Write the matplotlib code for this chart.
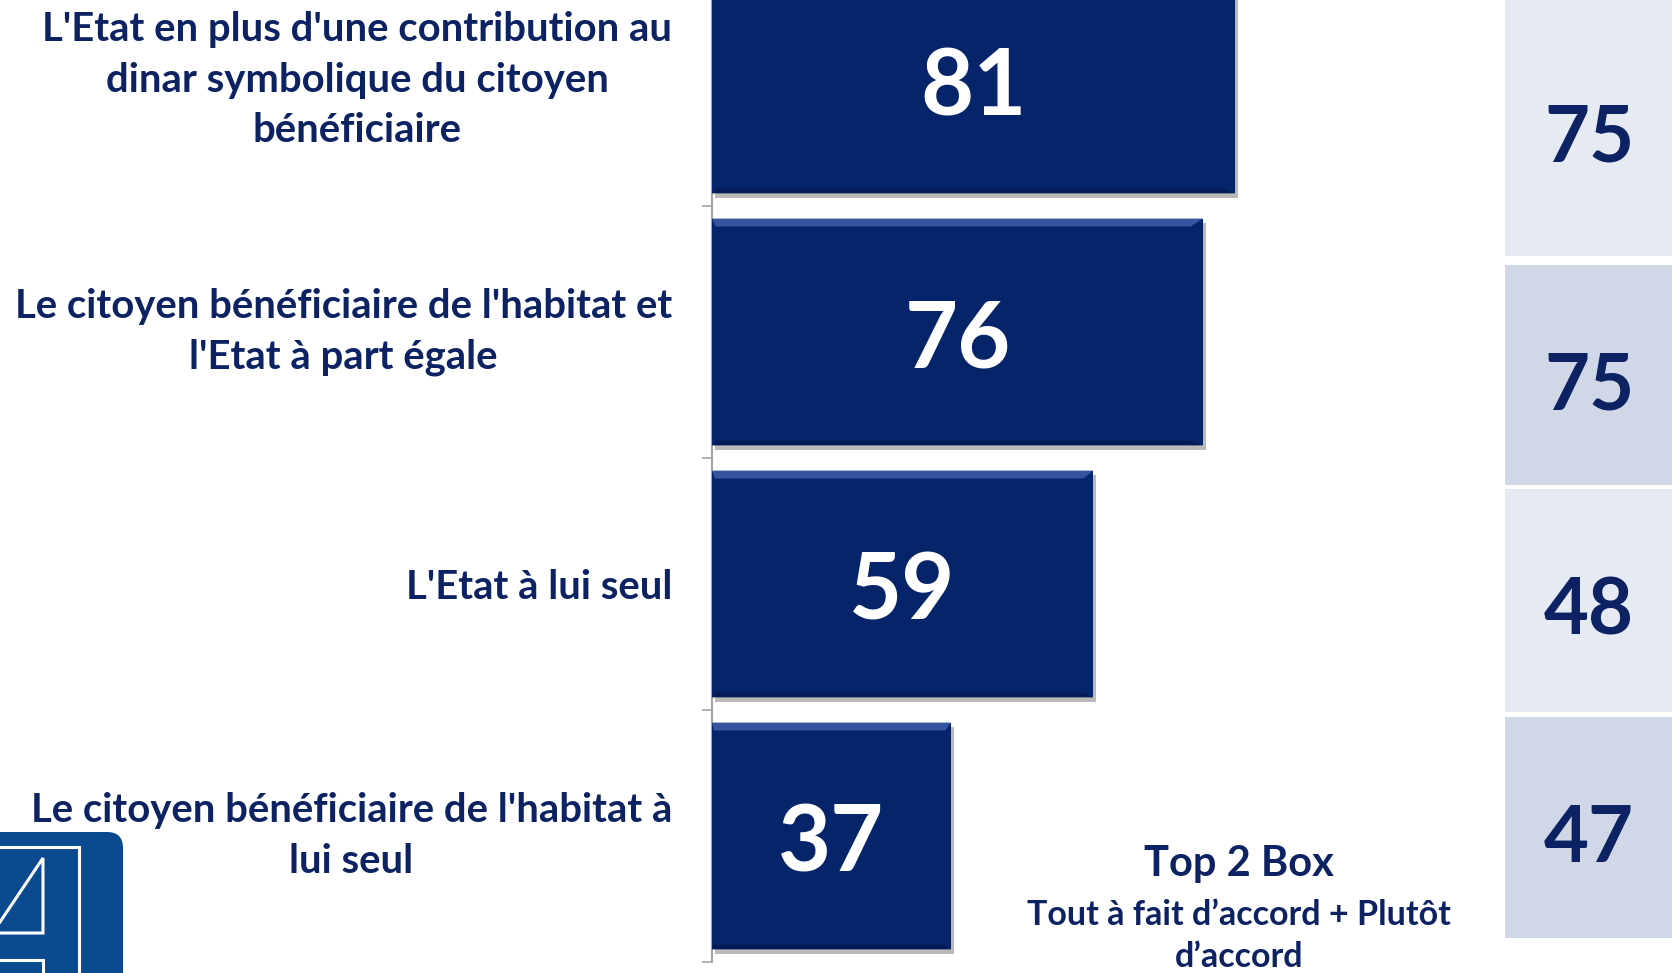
import matplotlib
matplotlib.use("Agg")
import matplotlib.pyplot as plt
from matplotlib.patches import Polygon, FancyBboxPatch, Rectangle
import matplotlib.patheffects as pe

# ---------------- data ----------------
categories = [
    "L'Etat en plus d'une contribution au\ndinar symbolique du citoyen\nbénéficiaire",
    "Le citoyen bénéficiaire de l'habitat et\nl'Etat à part égale",
    "L'Etat à lui seul",
    "Le citoyen bénéficiaire de l'habitat à\nlui seul",
]
values = [81, 76, 59, 37]
top2_values = [75, 75, 48, 47]
top2_title = "Top 2 Box"
top2_sub = "Tout à fait d’accord + Plutôt\nd’accord"

# ---------------- style / layout ----------------
W, H = 1672, 973
NAVY = "#06246a"
TEXT = "#0c2262"
FONT = "Lato"
plt.rcParams["font.family"] = [FONT, "DejaVu Sans"]

fig = plt.figure(figsize=(W / 100, H / 100), dpi=100)
fig.patch.set_facecolor("white")

# overlay (pixel coordinates) for decorations & side table
ov = fig.add_axes([0, 0, 1, 1], zorder=0)
ov.set_xlim(0, W)
ov.set_ylim(H, 0)
ov.axis("off")

# main bar axes
axis_x0 = 712
px_per_unit = 6.46
xmax = 100
band = 252
axis_bottom = 962
ax = fig.add_axes([axis_x0 / W, (H - axis_bottom) / H,
                   xmax * px_per_unit / W, axis_bottom / H], zorder=2)
ax.patch.set_alpha(0)
n = len(values)
ax.set_xlim(0, xmax)
ax.set_ylim(n - 0.5, n - 0.5 - axis_bottom / band)

pos = list(range(n))
bars = ax.barh(pos, values, height=0.9, color=NAVY, zorder=3)
for b in bars:
    b.set_path_effects([pe.SimplePatchShadow(offset=(2, -3), shadow_rgbFace="#666666", alpha=0.45),
                        pe.Normal()])
    # bevel highlight along the top edge
    x0, y0, w, h = b.get_x(), b.get_y(), b.get_width(), b.get_height()
    dy = h * 0.035
    dx = w * 0.025
    ax.add_patch(Polygon([[x0, y0], [x0 + w, y0], [x0 + w - dx, y0 + dy], [x0 + dx * 0.3, y0 + dy]],
                         closed=True, facecolor="#34549f", edgecolor="none", zorder=4))
    ax.add_patch(Polygon([[x0, y0 + h], [x0 + w, y0 + h], [x0 + w - dx, y0 + h - dy * 0.6], [x0 + dx * 0.3, y0 + h - dy * 0.6]],
                         closed=True, facecolor="#041c55", edgecolor="none", zorder=4))

for b, v in zip(bars, values):
    ax.annotate(str(v), (b.get_x() + b.get_width() / 2, b.get_y() + b.get_height() / 2),
                xytext=(0, -7), textcoords="offset points",
                ha="center", va="center", color="white", fontsize=66, fontweight="bold", zorder=5)

# axis styling
for s in ["top", "right", "bottom"]:
    ax.spines[s].set_visible(False)
ax.spines["left"].set_color("#a6a6a6")
ax.spines["left"].set_linewidth(1.5)
ax.set_xticks([])
ax.set_yticks([p + 0.5 for p in pos])
ax.set_yticklabels([])
ax.tick_params(axis="y", which="major", length=7, width=1.2, color="#a6a6a6", direction="out")
ax.set_yticks(pos, categories, minor=True)
ax.tick_params(axis="y", which="minor", length=0, pad=28.8)
for lbl in ax.get_yticklabels(minor=True):
    lbl.set_multialignment("center")
    lbl.set_fontsize(28.8)
    lbl.set_fontweight("bold")
    lbl.set_color(TEXT)
    lbl.set_linespacing(1.45)
    if "\n" in lbl.get_text():
        lbl.set_verticalalignment("center")

# side table (Top 2 Box)
table_x0 = 1505
row_edges = [(0, 256), (265, 485), (489, 712), (717, 938)]
row_colors = ["#e6ebf3", "#d0d8e7", "#e6ebf3", "#d0d8e7"]
for (y0, y1), c, v in zip(row_edges, row_colors, top2_values):
    ov.add_patch(Rectangle((table_x0, y0), W - table_x0, y1 - y0, facecolor=c, edgecolor="none"))
    ov.text(1589, (y0 + y1) / 2 + 12, str(v), ha="center", va="center",
            fontsize=56, fontweight="bold", color=TEXT)

fig.text(1239 / W, 1 - 864 / H, top2_title, ha="center", va="center",
         fontsize=30, fontweight="bold", color=TEXT)
fig.text(1239 / W, 1 - 936 / H, top2_sub, ha="center", va="center", multialignment="center",
         fontsize=24.5, fontweight="bold", color=TEXT, linespacing=1.35)

# logo fragment (bottom-left)
ov.add_patch(FancyBboxPatch((-40, 832), 163, 200, boxstyle="round,pad=0,rounding_size=16",
                            facecolor="#0b4a8f", edgecolor="none"))
lw = 2.2
ov.plot([0, 79, 79], [847, 847, H], color="white", lw=lw, solid_joinstyle="miter")
ov.plot([0, 43, 43, 0], [933, 933, 858, 922], color="white", lw=lw, solid_joinstyle="miter")
ov.plot([0, 43, 43], [960, 960, H], color="white", lw=lw, solid_joinstyle="miter")

fig.savefig("out.png", dpi=100, facecolor="white")
